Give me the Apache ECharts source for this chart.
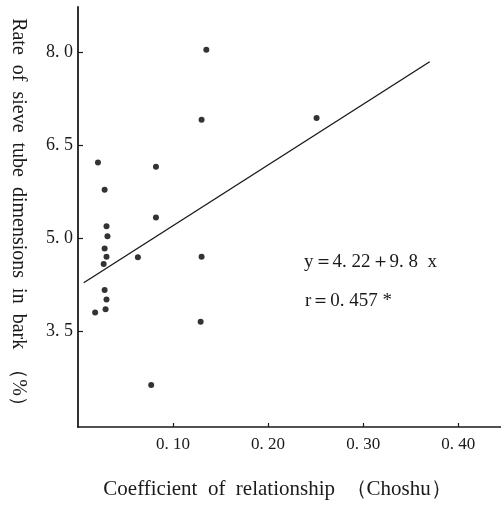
<!DOCTYPE html>
<html>
<head>
<meta charset="utf-8">
<script src="https://cdn.jsdelivr.net/npm/echarts@6/dist/echarts.min.js"></script>
<style>
  html, body { margin: 0; padding: 0; background: #fff; }
  #chart { width: 501px; height: 505px; }
</style>
</head>
<body>
<div id="chart"></div>
<script>
// Coefficient of relationship (x) vs. rate of sieve tube dimensions (y)
const coefValues = [0.135, 0.130, 0.251, 0.021, 0.082, 0.028, 0.082, 0.030, 0.031, 0.028,
                    0.030, 0.063, 0.027, 0.130, 0.028, 0.030, 0.029, 0.018, 0.129, 0.077];
const rateValues = [8.04, 6.91, 6.94, 6.22, 6.15, 5.78, 5.33, 5.19, 5.03, 4.83,
                    4.70, 4.69, 4.58, 4.70, 4.16, 4.01, 3.85, 3.80, 3.65, 2.63];

// Regression y = a + b x, drawn over the sampled x range
const fitIntercept = 4.22;
const fitSlope = 9.8;
const fitXRange = [0.006, 0.37];

const xTicks = [0.10, 0.20, 0.30, 0.40];
const yTicks = [3.5, 5.0, 6.5, 8.0];

const serif = '"Liberation Serif", "DejaVu Serif", serif';
const ink = '#1a1a1a';

const points = coefValues.map((x, i) => [x, rateValues[i]]);
const fitLine = fitXRange.map(x => [x, fitIntercept + fitSlope * x]);

const fmt = (v, d) => v.toFixed(d).replace('.', '. ');

const chart = echarts.init(document.getElementById('chart'), null, { renderer: 'canvas' });
chart.setOption({
  animation: false,
  backgroundColor: '#fff',
  grid: { left: 77, right: 0, top: 7, bottom: 77, containLabel: false },
  xAxis: {
    type: 'value',
    min: 0,
    max: 0.445,
    name: 'Coefficient  of  relationship  （Choshu）',
    nameLocation: 'middle',
    nameGap: 52,
    nameTextStyle: { fontFamily: serif, fontSize: 21, color: ink, padding: [0, 24, 0, 0] },
    axisLine: { lineStyle: { color: ink, width: 1.5 } },
    axisTick: { inside: true, length: 4, customValues: xTicks, lineStyle: { color: ink, width: 1.2 } },
    axisLabel: {
      customValues: xTicks,
      margin: 9,
      fontFamily: serif, fontSize: 17, color: ink,
      formatter: v => fmt(v, 2)
    },
    splitLine: { show: false }
  },
  yAxis: {
    type: 'value',
    min: 1.95,
    max: 8.73,
    name: 'Rate  of  sieve  tube  dimensions  in  bark  （%）',
    nameLocation: 'middle',
    nameRotate: -90,
    nameGap: 50,
    nameTextStyle: { fontFamily: serif, fontSize: 20, color: ink },
    axisLine: { lineStyle: { color: ink, width: 1.8 } },
    axisTick: { inside: true, length: 5, customValues: yTicks, lineStyle: { color: ink, width: 1.2 } },
    axisLabel: {
      customValues: yTicks,
      margin: 5,
      fontFamily: serif, fontSize: 18, color: ink,
      formatter: v => fmt(v, 1)
    },
    splitLine: { show: false }
  },
  graphic: [
    {
      type: 'text', left: 304, top: 253,
      style: { text: 'y＝4. 22＋9. 8  x', font: '19px ' + serif, fill: ink }
    },
    {
      type: 'text', left: 305, top: 292,
      style: { text: 'r＝0. 457 *', font: '19px ' + serif, fill: ink }
    }
  ],
  series: [
    {
      type: 'line',
      data: fitLine,
      symbol: 'none',
      lineStyle: { color: ink, width: 1.4 },
      z: 2
    },
    {
      type: 'scatter',
      data: points,
      symbol: 'circle',
      symbolSize: 6,
      itemStyle: { color: '#000' },
      z: 3
    }
  ]
});
</script>
</body>
</html>
